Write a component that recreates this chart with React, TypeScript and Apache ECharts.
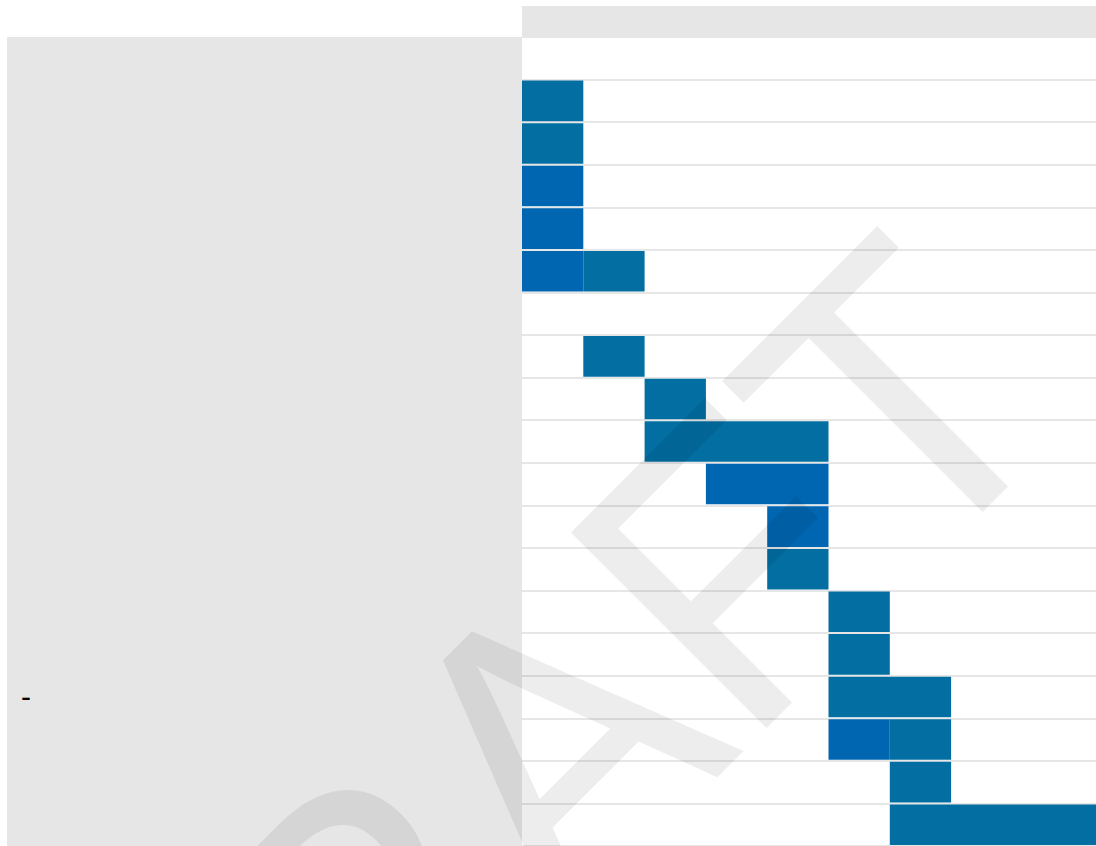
import React, { useEffect, useRef } from "react";
import * as echarts from "echarts";

// Row labels (top to bottom); only one row carries a visible label
const categories: string[] = [
  "", "", "", "", "", "", "", "", "", "", "", "", "", "", "", "-", "", "", "",
];

// [row index, start, end] — teal tasks
const tealTasks: number[][] = [
  [1, 0, 1], [2, 0, 1], [5, 1, 2], [7, 1, 2], [8, 2, 3], [9, 2, 5],
  [12, 4, 5], [13, 5, 6], [14, 5, 6], [15, 5, 7], [16, 6, 7], [17, 6, 7], [18, 6, 10],
];

// [row index, start, end] — blue tasks
const blueTasks: number[][] = [
  [3, 0, 1], [4, 0, 1], [5, 0, 1], [10, 3, 5], [11, 4, 5], [16, 5, 6],
];

const xMin = 0;
const xMax = 10;
const watermarkText = "DRAFT";

const TEAL = "#026ea2";
const BLUE = "#0066b2";
const PANEL = "#e6e6e6";

function makeRender(color: string) {
  return (params: any, api: any) => {
    const row = api.value(0);
    const s = api.coord([api.value(1), row]);
    const e = api.coord([api.value(2), row]);
    const h = api.size([0, 1])[1];
    return {
      type: "rect",
      shape: { x: s[0], y: s[1] - h / 2 + 1, width: e[0] - s[0], height: h - 2 },
      style: { fill: color },
    };
  };
}

export default function App() {
  const ref = useRef<HTMLDivElement>(null);
  useEffect(() => {
    if (!ref.current) return;
    const chart = echarts.init(ref.current, undefined, { renderer: "svg" });
    chart.setOption({
      animation: false,
      backgroundColor: "#ffffff",
      grid: { left: 522, top: 37, right: 0, bottom: 0, containLabel: false },
      xAxis: {
        type: "value",
        min: xMin,
        max: xMax,
        interval: 1,
        axisLabel: { show: false },
        axisLine: { show: false },
        axisTick: { show: false },
        splitLine: { show: false },
      },
      yAxis: {
        type: "category",
        inverse: true,
        data: categories,
        axisLine: { show: false },
        axisTick: { show: false },
        axisLabel: {
          show: true,
          align: "left",
          margin: 501,
          color: "#000000",
          fontSize: 30,
          padding: [7, 0, 0, 0],
          fontFamily: "Liberation Sans, Arial, sans-serif",
        },
        splitLine: { show: true, lineStyle: { color: PANEL, width: 2 } },
      },
      graphic: [
        {
          type: "rect",
          z: -10,
          shape: { x: 522, y: 6, width: 620, height: 31 },
          style: { fill: PANEL },
        },
        {
          type: "rect",
          z: -10,
          shape: { x: 7, y: 37, width: 515, height: 820 },
          style: { fill: PANEL },
        },
        {
          type: "text",
          z: 100,
          x: 523.4,
          y: 774,
          rotation: Math.PI / 4,
          scaleY: 1.037,
          silent: true,
          style: {
            text: watermarkText,
            fontSize: 388,
            fontFamily: "Liberation Sans, Arial, sans-serif",
            fill: "rgba(0,0,0,0.07)",
            textAlign: "center",
            textVerticalAlign: "middle",
            align: "center",
            verticalAlign: "middle",
          },
        },
      ],
      series: [
        {
          type: "custom",
          name: "teal",
          renderItem: makeRender(TEAL),
          encode: { x: [1, 2], y: 0 },
          data: tealTasks,
          z: 2,
        },
        {
          type: "custom",
          name: "blue",
          renderItem: makeRender(BLUE),
          encode: { x: [1, 2], y: 0 },
          data: blueTasks,
          z: 2,
        },
      ],
    });
    return () => chart.dispose();
  }, []);
  return (
    <div
      style={{
        position: "fixed",
        left: 0,
        top: 0,
        width: 1096,
        height: 846,
        overflow: "hidden",
      }}
    >
      <div ref={ref} style={{ width: 1135, height: 846 }} />
    </div>
  );
}
